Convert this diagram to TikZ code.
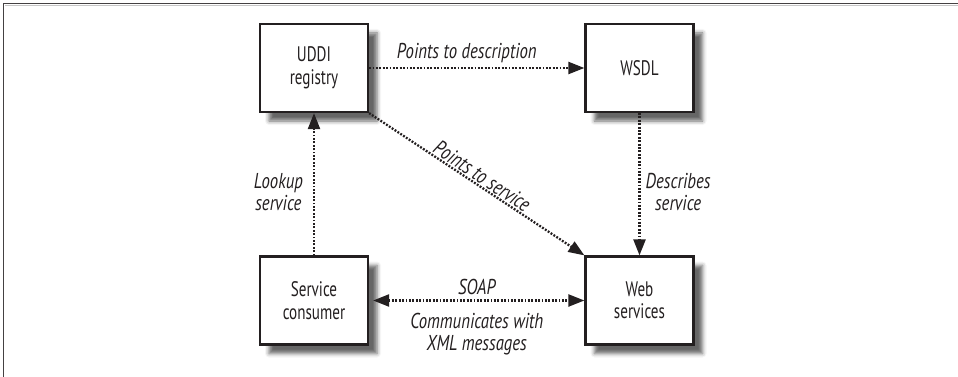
\documentclass[tikz,border=0pt]{standalone}
\usepackage{fontspec}
\setmainfont{PT Sans}[FakeStretch=0.72]
\newfontfamily\lblfont{PT Sans}[FakeStretch=0.78]
\usetikzlibrary{arrows.meta,shadows.blur}
\definecolor{ink}{HTML}{231F20}
\begin{document}
\begin{tikzpicture}[x=1pt,y=-1pt,
  box/.style={draw=ink, line width=2.2pt, fill=white, minimum width=108pt, minimum height=88pt,
    align=center, font=\fontsize{21}{22.5}\selectfont, text=ink, inner sep=0pt,
    blur shadow={shadow xshift=9pt, shadow yshift=-9pt, shadow blur radius=4pt, shadow opacity=60}},
  conn/.style={draw=ink, line width=2.3pt, dash pattern=on 1.9pt off 1.5pt,
    -{Triangle[length=16pt,width=12pt]}},
  lbl/.style={font=\lblfont\fontsize{21.5}{22}\selectfont\itshape, text=ink, align=center, inner sep=1pt}]
\useasboundingbox (0,0) rectangle (958,377);
% frame
\draw[gray!45, line width=1.2pt] (4.5,5.3) -- (958,5.3);
\draw[ink!85, line width=1.3pt] (3.7,377) -- (3.7,3.7) -- (958,3.7);
% boxes
\node[box] (uddi) at (314,68) {UDDI\\registry};
\node[box] (wsdl) at (639.5,68) {WSDL};
\node[box] (sc) at (314,300.5) {Service\\consumer};
\node[box] (ws) at (639.5,300.5) {Web\\services};
% connectors
\draw[conn] (uddi.east) -- node[lbl, above, yshift=3pt, xshift=-10pt] {Points to description} (wsdl.west);
\draw[conn] (wsdl.south) -- node[lbl, right, xshift=4pt, yshift=-8pt] {Describes\\service} (ws.north);
\draw[conn] (sc.north) -- node[lbl, left, xshift=-9pt, yshift=-8pt] {Lookup\\service} (uddi.south);
\draw[conn] (uddi.south east) -- node[lbl, sloped, above, yshift=0pt] {Points to service} (ws.north west);
\draw[conn, {Triangle[length=16pt,width=12pt]}-{Triangle[length=16pt,width=12pt]}, shorten <=4pt]
  (sc.east) -- node[lbl, above, yshift=4pt] {SOAP}
  node[lbl, below, yshift=-11pt] {Communicates with\\XML messages} (ws.west);
\end{tikzpicture}
\end{document}
